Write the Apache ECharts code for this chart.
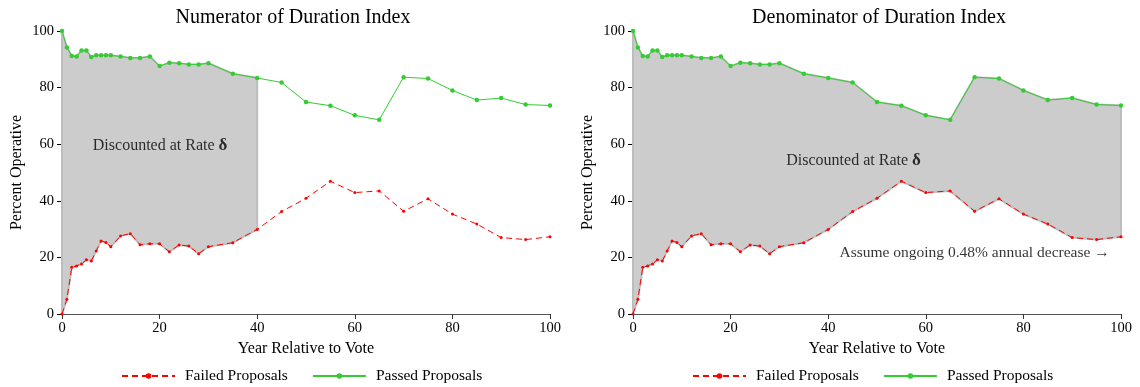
<!DOCTYPE html>
<html>
<head>
<meta charset="utf-8">
<script src="https://cdn.jsdelivr.net/npm/echarts@6/dist/echarts.min.js"></script>
<style>
html,body{margin:0;padding:0;background:#fff;}
#main{width:1140px;height:387px;}
</style>
</head>
<body>
<div id="main"></div>
<script>
// ---- data ----
const years = [0,1,2,3,4,5,6,7,8,9,10,12,14,16,18,20,22,24,26,28,30,35,40,45,50,55,60,65,70,75,80,85,90,95,100];
const passedPct = [100,94.2,91.2,91,93.1,93.1,90.8,91.4,91.4,91.4,91.4,91,90.5,90.5,91,87.6,88.8,88.6,88.2,88.2,88.6,84.9,83.4,81.8,74.9,73.6,70.2,68.6,83.7,83.2,79,75.6,76.3,74,73.7];
const failedPct = [0,5.2,16.5,17,17.7,19.2,18.7,22.3,25.8,25.3,23.8,27.6,28.4,24.5,24.8,24.8,22,24.4,24,21.3,23.8,25.2,29.9,36.2,40.9,46.9,42.9,43.5,36.3,40.7,35.3,31.8,27,26.3,27.3];
const xTicks = [0,20,40,60,80,100];
const yTicks = [0,20,40,60,80,100];
const titles = ['Numerator of Duration Index','Denominator of Duration Index'];
const leftBandEndYear = 40;

const FONT = '"Liberation Serif", "DejaVu Serif", serif';
const GREEN = '#33cc33';
const RED = '#ff0000';
const BAND = '#cccccc';
const EDGE = '#bdbdbd';

const chart = echarts.init(document.getElementById('main'), null, {renderer:'canvas'});

function axisPair(i){
  const xa = {
    type:'value', gridIndex:i, min:xTicks[0], max:xTicks[xTicks.length-1], interval:20,
    name:'Year Relative to Vote', nameLocation:'middle', nameGap:18,
    nameTextStyle:{fontFamily:FONT, fontSize:16, color:'#000'},
    axisLine:{show:true, onZero:false, lineStyle:{color:'#555', width:1}},
    axisTick:{show:true, length:5, inside:false, lineStyle:{color:'#333'}},
    axisLabel:{fontFamily:FONT, fontSize:14.5, color:'#000', margin:7},
    splitLine:{show:false}
  };
  const ya = {
    type:'value', gridIndex:i, min:yTicks[0], max:yTicks[yTicks.length-1], interval:20,
    name:'Percent Operative', nameLocation:'middle', nameGap:37,
    nameTextStyle:{fontFamily:FONT, fontSize:16, color:'#000'},
    axisLine:{show:true, onZero:false, lineStyle:{color:'#000', width:1}},
    axisTick:{show:true, length:5, inside:false, lineStyle:{color:'#000'}},
    axisLabel:{fontFamily:FONT, fontSize:14.5, color:'#000', margin:8},
    splitLine:{show:false}
  };
  return [xa, ya];
}
const ax0 = axisPair(0), ax1 = axisPair(1);

// gray band between failed and passed, drawn through the axes' own scales
function bandSeries(i, endYear){
  const idx = years.map((y,k)=>k).filter(k=>years[k] <= endYear);
  return {
    name:'band-'+i, type:'custom', xAxisIndex:i, yAxisIndex:i,
    data:[[years[idx[0]], failedPct[idx[0]]]],
    silent:true, z:1, animation:false,
    renderItem:function(params, api){
      const pts = [];
      idx.forEach(k=>pts.push(api.coord([years[k], passedPct[k]])));
      idx.slice().reverse().forEach(k=>pts.push(api.coord([years[k], failedPct[k]])));
      return {type:'polygon', shape:{points:pts},
        style:{fill:BAND, stroke:EDGE, lineWidth:2, lineJoin:'round'}};
    }
  };
}

function lineSeries(i){
  return [
    {name:'Failed Proposals', type:'line', xAxisIndex:i, yAxisIndex:i,
     data:years.map((y,k)=>[y, failedPct[k]]),
     symbol:'circle', symbolSize:3, showSymbol:true,
     lineStyle:{color:RED, width:1, type:[6,4]}, itemStyle:{color:RED}, z:3, animation:false},
    {name:'Passed Proposals', type:'line', xAxisIndex:i, yAxisIndex:i,
     data:years.map((y,k)=>[y, passedPct[k]]),
     symbol:'circle', symbolSize:4.5, showSymbol:true,
     lineStyle:{color:GREEN, width:1}, itemStyle:{color:GREEN}, z:3, animation:false}
  ];
}

function annot(i, x, y, rich){
  return {name:'annot-'+i+'-'+x, type:'scatter', xAxisIndex:i, yAxisIndex:i,
    data:[[x,y]], symbolSize:0, silent:true, z:5, animation:false,
    label:{show:true, position:'inside', formatter:rich.text, rich:rich.rich,
      fontFamily:FONT, fontSize:rich.size, color:'#000'}};
}
const discRich = {text:'Discounted at Rate {b|δ}', size:16, rich:{b:{fontFamily:FONT, fontSize:17, fontWeight:'bold', color:'#000'}}};
const assumeRich = {text:'Assume ongoing 0.48% annual decrease →', size:15.5, rich:{}};

const series = [].concat(
  [bandSeries(0, leftBandEndYear), bandSeries(1, years[years.length-1])],
  lineSeries(0), lineSeries(1),
  [annot(0, 20.1, 59.5, discRich), annot(1, 45.2, 54.2, discRich), annot(1, 70, 21.5, assumeRich)]
);

function legend(center){
  return {data:['Failed Proposals','Passed Proposals'], left:center, top:363,
    itemWidth:53, itemHeight:7, itemGap:24,
    textStyle:{fontFamily:FONT, fontSize:15.5, color:'#000', padding:[0,0,0,5]},
    selectedMode:false};
}

chart.setOption({
  backgroundColor:'#fff',
  animation:false,
  title:[
    {text:titles[0], left:288, top:3, textAlign:'center', textStyle:{fontFamily:FONT, fontSize:20, fontWeight:'normal', color:'#000'}},
    {text:titles[1], left:874, top:3, textAlign:'center', textStyle:{fontFamily:FONT, fontSize:20, fontWeight:'normal', color:'#000'}}
  ],
  grid:[
    {left:62, top:31, width:488, height:283, containLabel:false},
    {left:633, top:31, width:488, height:283, containLabel:false}
  ],
  xAxis:[ax0[0], ax1[0]],
  yAxis:[ax0[1], ax1[1]],
  legend:[legend(116), legend(687)],
  series:series
});
</script>
</body>
</html>
